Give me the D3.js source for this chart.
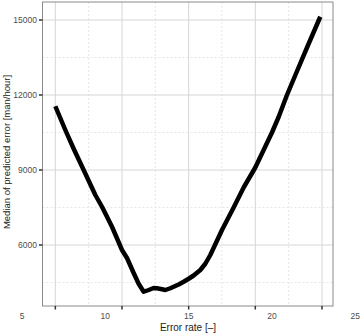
<!DOCTYPE html>
<html>
<head>
<meta charset="utf-8">
<script src="https://cdn.jsdelivr.net/npm/d3@7"></script>
<style>
  body { margin: 0; background: #fff; }
  svg { display: block; font-family: "Liberation Sans", Arial, sans-serif; }
</style>
</head>
<body>
<svg id="chart" width="360" height="334"></svg>
<script>
// values
const errorRate = [7.0, 7.6, 8.1, 8.7, 9.4, 9.8, 10.4, 11.0, 11.3, 11.7, 12.0, 12.3, 12.6, 12.9, 13.1, 13.4, 13.6, 13.9, 14.1, 14.4, 14.7, 15.0, 15.3, 15.7, 16.0, 16.3, 17.0, 17.7, 18.3, 19.0, 19.5, 20.0, 20.4, 20.9, 21.5, 22.2, 22.9];
const medianError = [11550, 10600, 9850, 9000, 8000, 7530, 6730, 5800, 5480, 4880, 4450, 4130, 4200, 4280, 4270, 4230, 4200, 4270, 4330, 4420, 4530, 4650, 4780, 5000, 5250, 5600, 6600, 7500, 8300, 9100, 9800, 10500, 11120, 12000, 12950, 14050, 15130];

const xLabels = [5, 10, 15, 20, 25];
const xMajor = [7, 11, 15, 19, 23];
const xMinor = [9, 13, 17, 21];
const yTicks = [6000, 9000, 12000, 15000];
const yMinor = [4500, 7500, 10500, 13500];

const svg = d3.select("#chart");

const panel = { left: 42.5, right: 333, top: 2, bottom: 306 };

const x = d3.scaleLinear().domain([5, 25]).range([22, 355.3]);
const y = d3.scaleLinear().domain([15000, 6000]).range([20, 245]);

// grid
svg.append("g").selectAll("line")
    .data(xMinor)
    .enter().append("line")
    .attr("x1", d => x(d)).attr("x2", d => x(d))
    .attr("y1", panel.top).attr("y2", panel.bottom)
    .attr("stroke", "#e6e6e6").attr("stroke-dasharray", "2,2");
svg.append("g").selectAll("line")
    .data(yMinor)
    .enter().append("line")
    .attr("y1", d => y(d)).attr("y2", d => y(d))
    .attr("x1", panel.left).attr("x2", panel.right)
    .attr("stroke", "#e6e6e6").attr("stroke-dasharray", "2,2");
svg.append("g").selectAll("line")
    .data(xMajor)
    .enter().append("line")
    .attr("x1", d => x(d)).attr("x2", d => x(d))
    .attr("y1", panel.top).attr("y2", panel.bottom)
    .attr("stroke", "#d6d6d6");
svg.append("g").selectAll("line")
    .data(yTicks)
    .enter().append("line")
    .attr("y1", d => y(d)).attr("y2", d => y(d))
    .attr("x1", panel.left).attr("x2", panel.right)
    .attr("stroke", "#d6d6d6");

// panel border
svg.append("rect")
    .attr("x", panel.left).attr("y", panel.top)
    .attr("width", panel.right - panel.left).attr("height", panel.bottom - panel.top)
    .attr("fill", "none").attr("stroke", "#8a8a8a").attr("stroke-width", 1);

// y axis ticks + labels
const yAxis = svg.append("g");
yAxis.selectAll("line")
    .data(yTicks)
    .enter().append("line")
    .attr("x1", panel.left - 3.5).attr("x2", panel.left)
    .attr("y1", d => y(d)).attr("y2", d => y(d))
    .attr("stroke", "#333").attr("stroke-width", 1.5);
yAxis.selectAll("text")
    .data(yTicks)
    .enter().append("text")
    .attr("x", panel.left - 5.5).attr("y", d => y(d))
    .attr("dy", "0.35em")
    .attr("text-anchor", "end")
    .attr("font-size", 8.5).attr("fill", "#4d4d4d")
    .text(d => d);

// x axis tick marks and labels (labels sit on their own scale positions)
const xAxis = svg.append("g");
xAxis.selectAll("line")
    .data(xMajor)
    .enter().append("line")
    .attr("x1", d => x(d)).attr("x2", d => x(d))
    .attr("y1", panel.bottom).attr("y2", panel.bottom + 3.5)
    .attr("stroke", "#333").attr("stroke-width", 1.5);
xAxis.selectAll("text")
    .data(xLabels)
    .enter().append("text")
    .attr("x", d => x(d)).attr("y", 319)
    .attr("text-anchor", "middle")
    .attr("font-size", 8.5).attr("fill", "#4d4d4d")
    .text(d => d);

// axis titles
svg.append("text")
    .attr("x", 188).attr("y", 331)
    .attr("text-anchor", "middle")
    .attr("font-size", 10).attr("fill", "#222")
    .text("Error rate [\u2013]");
svg.append("text")
    .attr("transform", "translate(10,152) rotate(-90)")
    .attr("text-anchor", "middle")
    .attr("font-size", 9.5).attr("fill", "#222")
    .text("Median of predicted error [man/hour]");

// curve
const line = d3.line()
    .x((d, i) => x(errorRate[i]))
    .y(d => y(d));
svg.append("path")
    .datum(medianError)
    .attr("d", line)
    .attr("fill", "none")
    .attr("stroke", "#000")
    .attr("stroke-width", 4.5)
    .attr("stroke-linejoin", "round");
</script>
</body>
</html>
